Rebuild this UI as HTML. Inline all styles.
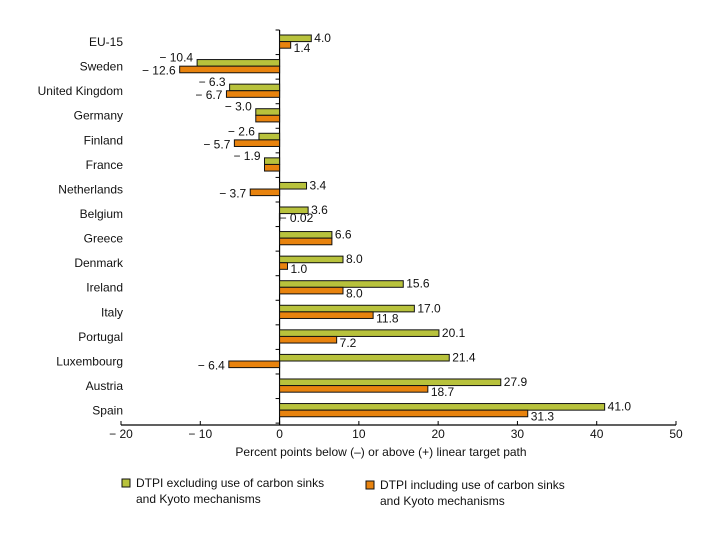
<!DOCTYPE html>
<html><head><meta charset="utf-8"><style>
body{margin:0;background:#fff;}
svg text{font-family:"Liberation Sans",sans-serif;font-size:12px;fill:#111;}
</style></head><body>
<svg id="chart" width="720" height="540" viewBox="0 0 720 540">
</svg>
<script>
const categories=["EU-15","Sweden","United Kingdom","Germany","Finland","France","Netherlands","Belgium","Greece","Denmark","Ireland","Italy","Portugal","Luxembourg","Austria","Spain"];
const excluding=[4.0,-10.4,-6.3,-3.0,-2.6,-1.9,3.4,3.6,6.6,8.0,15.6,17.0,20.1,21.4,27.9,41.0];
const including=[1.4,-12.6,-6.7,-3.0,-5.7,-1.9,-3.7,-0.02,6.6,1.0,8.0,11.8,7.2,-6.4,18.7,31.3];
const excLabels=["4.0","− 10.4","− 6.3","− 3.0","− 2.6","− 1.9","3.4","3.6","6.6","8.0","15.6","17.0","20.1","21.4","27.9","41.0"];
const incLabels=["1.4","− 12.6","− 6.7","","− 5.7","","− 3.7","− 0.02","","1.0","8.0","11.8","7.2","− 6.4","18.7","31.3"];
const xTicks=[-20,-10,0,10,20,30,40,50];
const xTickLabels=["− 20","− 10","0","10","20","30","40","50"];

const svg=document.getElementById('chart');
const NS='http://www.w3.org/2000/svg';
const x0=121,x1=676,vmin=-20,vmax=50;
function xs(v){return x0+(v-vmin)/(vmax-vmin)*(x1-x0);}
const rowTop=35,rowStep=24.57,bh=6.6;
function ys(i){return rowTop+i*rowStep;}
function mk(tag,attrs){const e=document.createElementNS(NS,tag);for(const k in attrs)e.setAttribute(k,attrs[k]);svg.appendChild(e);return e;}
function txt(x,y,s,anchor){const t=mk('text',{x:x,y:y,'text-anchor':anchor||'start'});t.textContent=s;return t;}

const zx=xs(0);
let a=mk('line',{x1:zx,y1:30,x2:zx,y2:425,stroke:'#000','stroke-width':1.2});


for(let i=0;i<=categories.length;i++){
  const ty=ys(i)-5;
  const tk=mk('line',{x1:zx-4,y1:ty,x2:zx,y2:ty,stroke:'#000','stroke-width':1});
  
  
}
categories.forEach((c,i)=>{
  const y=ys(i);
  const l=txt(123,y+11,c,'end');
  
  
  const v1=excluding[i];
  const g=mk('rect',{x:Math.min(xs(v1),zx),y:y,width:Math.abs(xs(v1)-zx),height:bh,fill:'#b8c23c',stroke:'#111','stroke-width':1});
  
  
  const v2=including[i];
  const o=mk('rect',{x:Math.min(xs(v2),zx),y:y+bh,width:Math.max(Math.abs(xs(v2)-zx),0.5),height:bh,fill:'#e8830e',stroke:'#111','stroke-width':1});
  
  
  if(excLabels[i]){
    const t=v1>=0?txt(xs(v1)+3,y+7,excLabels[i]):txt(Math.min(xs(v1),zx)-4,y+2,excLabels[i],'end');
    
    
  }
  if(incLabels[i]){
    const t=v2>=0?txt(xs(v2)+3,y+17,incLabels[i]):txt(Math.min(xs(v2),zx)-4,y+15,incLabels[i],'end');
    if(v2<0&&v2>-0.5){t.setAttribute('x',zx);t.setAttribute('text-anchor','start');}
    
    
  }
});
let xa=mk('line',{x1:x0,y1:425,x2:x1,y2:425,stroke:'#000','stroke-width':1.2});


xTicks.forEach((v,i)=>{
  const tk=mk('line',{x1:xs(v),y1:421,x2:xs(v),y2:425,stroke:'#000'});
  
  
  const t=txt(xs(v),438,xTickLabels[i],'middle');
  
  
});
let at=txt(381,456,"Percent points below (–) or above (+) linear target path",'middle');


let s1=mk('rect',{x:122,y:479,width:8,height:8,fill:'#b8c23c',stroke:'#111'});


let l1=txt(136,487,"DTPI excluding use of carbon sinks");


let l1b=txt(136,503,"and Kyoto mechanisms");


let s2=mk('rect',{x:366,y:481,width:8,height:8,fill:'#e8830e',stroke:'#111'});


let l2=txt(380,489,"DTPI including use of carbon sinks");


let l2b=txt(380,505,"and Kyoto mechanisms");


</script>
</body></html>
